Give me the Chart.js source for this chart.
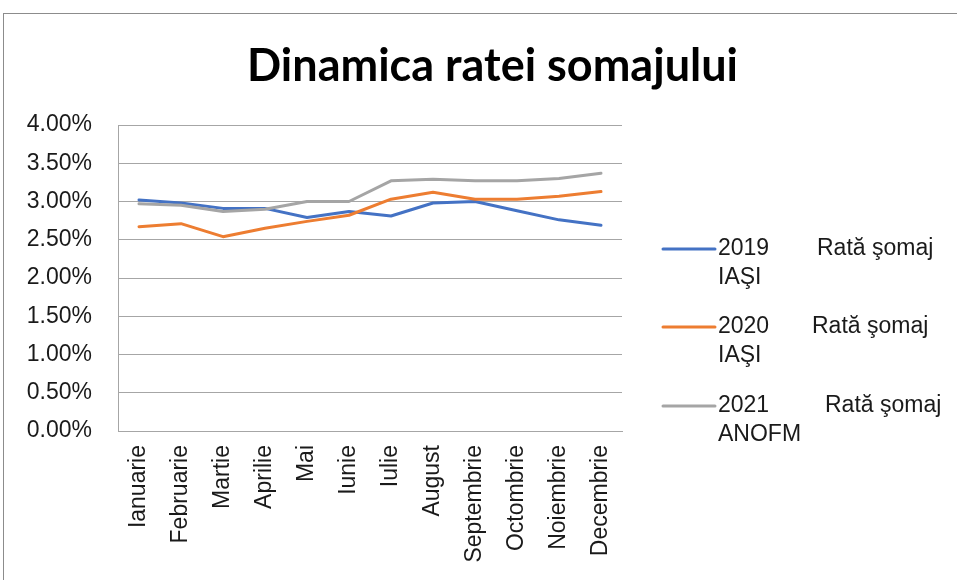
<!DOCTYPE html>
<html>
<head>
<meta charset="utf-8">
<script src="https://cdn.jsdelivr.net/npm/chart.js@4"></script>
<style>
    body { margin: 0; background: #fff; }
    #wrap { position: relative; width: 957px; height: 580px; overflow: hidden; }
    #frame {
        position: absolute; left: 3px; top: 13px; width: 1000px; height: 700px;
        border-top: 1px solid #8c8c8c; border-left: 1px solid #8c8c8c;
        pointer-events: none;
    }
</style>
</head>
<body>
<div id="wrap">
    <canvas id="myChart" width="980" height="580"></canvas>
    <div id="frame"></div>
</div>
<script>
'use strict'

const months = ['Ianuarie', 'Februarie', 'Martie', 'Aprilie', 'Mai', 'Iunie',
    'Iulie', 'August', 'Septembrie', 'Octombrie', 'Noiembrie', 'Decembrie'];

// rata somajului, in procente
const rate2019 = [3.02, 2.98, 2.91, 2.91, 2.79, 2.87, 2.81, 2.98, 3.00, 2.88, 2.76, 2.69];
const rate2020 = [2.67, 2.71, 2.54, 2.65, 2.74, 2.82, 3.03, 3.12, 3.03, 3.03, 3.07, 3.13];
const rate2021 = [2.97, 2.95, 2.87, 2.90, 3.00, 3.00, 3.27, 3.29, 3.27, 3.27, 3.30, 3.37];

const seriesYears = ['2019', '2020', '2021'];
const seriesNames = ['Rată şomaj', 'Rată şomaj', 'Rată şomaj'];
const seriesSources = ['IAŞI', 'IAŞI', 'ANOFM'];
const seriesColors = ['#4472C4', '#ED7D31', '#A5A5A5'];

const yMin = 0;
const yMax = 4;
const yStep = 0.5;

const chartTitle = 'Dinamica ratei somajului';

const textColor = '#1a1a1a';
const gridColor = '#a6a6a6';
const labelFont = '"Liberation Sans", Arial, sans-serif';

// legend drawn by hand, two lines per entry like in excel
const sideLegend = {
    id: 'sideLegend',
    afterDraw(chart) {
        const ctx = chart.ctx;
        const rowsY = [249, 327, 406];
        const nameX = [817, 812, 825];
        ctx.save();
        ctx.font = '23px ' + labelFont;
        ctx.fillStyle = textColor;
        ctx.textBaseline = 'middle';
        ctx.textAlign = 'left';
        for (let i = 0; i < seriesYears.length; i++) {
            let y = rowsY[i];
            ctx.strokeStyle = seriesColors[i];
            ctx.lineWidth = 3;
            ctx.lineCap = 'round';
            ctx.beginPath();
            ctx.moveTo(663, y);
            ctx.lineTo(715, y);
            ctx.stroke();
            ctx.fillText(seriesYears[i], 718, y);
            ctx.fillText(seriesNames[i], nameX[i], y);
            ctx.fillText(seriesSources[i], 718, y + 29);
        }
        ctx.restore();
    }
};

const allRates = [rate2019, rate2020, rate2021];
let datasets = [];
for (let i = 0; i < allRates.length; i++) {
    datasets.push({
        label: `${seriesYears[i]} ${seriesNames[i]} ${seriesSources[i]}`,
        data: allRates[i],
        borderColor: seriesColors[i],
        backgroundColor: seriesColors[i],
        borderWidth: 3,
        pointRadius: 0,
        tension: 0,
        borderJoinStyle: 'round',
        borderCapStyle: 'round',
        order: allRates.length - i
    });
}

const ctx = document.getElementById('myChart').getContext('2d');
const myChart = new Chart(ctx, {
    type: 'line',
    data: {
        labels: months,
        datasets: datasets
    },
    options: {
        responsive: false,
        animation: false,
        layout: {
            padding: { left: 5, right: 0, top: 0, bottom: 0 }
        },
        plugins: {
            legend: { display: false },
            tooltip: { enabled: false },
            title: {
                display: true,
                text: chartTitle,
                color: '#000',
                font: { family: 'Lato, "Open Sans", sans-serif', size: 45, weight: 'bold', lineHeight: 1.2 },
                padding: { top: 39, bottom: 32 }
            }
        },
        scales: {
            x: {
                offset: true,
                grid: { display: false, drawTicks: false },
                border: { display: true, color: gridColor, width: 1 },
                ticks: {
                    autoSkip: false,
                    maxRotation: 90,
                    minRotation: 90,
                    padding: 14,
                    color: textColor,
                    font: { family: labelFont, size: 23 }
                },
                afterFit: function (scale) {
                    scale.height = 149;
                }
            },
            y: {
                min: yMin,
                max: yMax,
                grid: { color: gridColor, lineWidth: 1, drawTicks: false },
                border: { display: true, color: gridColor, width: 1 },
                ticks: {
                    stepSize: yStep,
                    padding: 26,
                    color: textColor,
                    font: { family: labelFont, size: 23 },
                    callback: function (value) {
                        return value.toFixed(2) + '%';
                    }
                },
                afterFit: function (scale) {
                    scale.width = 113;
                }
            },
            // empty axis that keeps room for the legend on the right
            side: {
                position: 'right',
                display: true,
                grid: { display: false, drawTicks: false },
                border: { display: false },
                ticks: { display: false },
                afterFit: function (scale) {
                    scale.width = 358;
                }
            }
        }
    },
    plugins: [sideLegend]
});
</script>
</body>
</html>
